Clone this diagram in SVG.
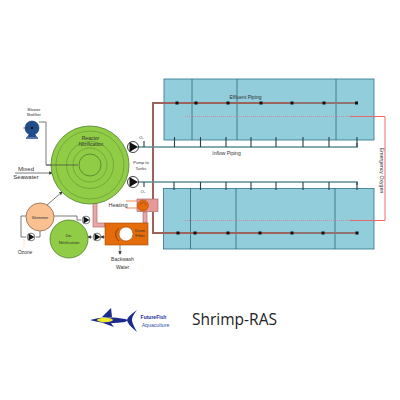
<svg xmlns="http://www.w3.org/2000/svg" width="400" height="400" viewBox="0 0 400 400">
<defs>
<marker id="arr" markerWidth="5" markerHeight="5" refX="4" refY="2.500" orient="auto"><path d="M0 0L5 2.500L0 5Z" fill="#333"/></marker>
<g id="pumpg"><circle r="5.500" fill="#fff" stroke="#111" stroke-width="0.8"/><path d="M-3.500 -5L5 0L-3.500 5Z" fill="#111"/></g>
</defs>
<style>
text{font-family:"Liberation Sans",Arial,sans-serif;fill:#333;text-anchor:middle}
.t{font-size:5px}.m{font-size:6px}.s{font-size:4.200px}
.tank{fill:#92cddc;stroke:#31708a;stroke-width:0.8}
.div{stroke:#2f6778;stroke-width:0.8;fill:none}
.eff{stroke:#9c625c;stroke-width:2;fill:none}
.efb{stroke:#8f7472;stroke-width:1.800;fill:none}
.inf{stroke:#5f8d92;stroke-width:1.700;fill:none}
.stub{stroke:#26404a;stroke-width:1.100;fill:none}
.dot{fill:#111}
.o2{stroke:#f05a5a;stroke-width:0.9;fill:none}
.o2d{stroke:#d77a8f;stroke-width:0.8;stroke-dasharray:1 1;fill:none}
.con{stroke:#444;stroke-width:0.7;fill:none}
.ar{stroke:#444;stroke-width:0.7;fill:none;marker-end:url(#arr)}
.pink{stroke:#a85f5f;stroke-width:0.6;fill:#e6a8a8}
.ring{fill:none;stroke:#5f9433;stroke-width:0.6}
</style>
<rect width="400" height="400" fill="#fff"/>
<g id="tank-top">
<rect class="tank" x="164" y="79" width="210" height="61"/>
<path class="div" d="M192 79V140M237 79V140M336 79V140"/>
</g>
<g id="tank-bottom">
<rect class="tank" x="163.500" y="188.500" width="210.500" height="60.500"/>
<path class="div" d="M190.500 188V249M236 188V249M335 188V249"/>
</g>
<g id="connectors">
<path class="o2d" d="M185 116.500H350M185 220.500H350"/>
<path class="o2" d="M350 116.500H385V220.500H350"/>
<path class="eff" d="M358 103H153V199M153 212V233H358"/>
<path class="efb" d="M290 233H358M290 103H358"/>
<path class="inf" d="M138 147H357V143M138 182H357V185"/>
<path class="stub" d="M174.500 137V147M200.500 137V147M226 137V147M251 137V147M276 137V147M303 137V147M329 137V147M357 137V147"/>
<path class="stub" d="M174 182V190M200.500 182V190M226 182V190M251 182V190M276 182V190M303 182V190M329 182V190M357 182V190"/>
<path class="stub" d="M144 147V141M144 182V187"/>
<g class="dot">
<rect x="175.500" y="101.500" width="3" height="3"/><rect x="194.500" y="101.500" width="3" height="3"/><rect x="226.500" y="101.500" width="3" height="3"/><rect x="259.500" y="101.500" width="3" height="3"/><rect x="290.500" y="101.500" width="3" height="3"/><rect x="322.500" y="101.500" width="3" height="3"/><rect x="355" y="101.500" width="3" height="3"/>
<rect x="176.500" y="231.500" width="3" height="3"/><rect x="193.500" y="231.500" width="3" height="3"/><rect x="226.500" y="231.500" width="3" height="3"/><rect x="258.500" y="231.500" width="3" height="3"/><rect x="290.500" y="231.500" width="3" height="3"/><rect x="321.500" y="231.500" width="3" height="3"/><rect x="355.500" y="231.500" width="3" height="3"/>
</g>
<path class="con" d="M39 122H46V165H78"/>
<path class="ar" d="M15 173H52"/>
<path class="ar" d="M47 205L62 192"/>
<path class="pink" d="M93 203V227H105V223H97V203Z"/>
<path class="pink" d="M143 223V212H147V223Z"/>
<path class="con" d="M54 216H77V220H81"/>
<path class="ar" d="M105 237H101"/>
<path class="ar" d="M92 237H88"/>
<path class="con" d="M27 216H21V237H26M36 237H40V230"/>
<path d="M24 239V247" stroke="#f3dfb5" stroke-width="0.8" fill="none"/>
<path class="ar" d="M120 245V254"/>
<path d="M126 201H138M126 208H138" stroke="#ef8a5a" stroke-width="1.200" fill="none"/>
</g>
<g id="blower">
<circle cx="32" cy="128" r="7" fill="#1f4e8c" stroke="#12305c" stroke-width="0.6"/>
<path d="M26 138H38" stroke="#1f4e8c" stroke-width="1.500"/>
<path d="M29 134L27 137H37L35 134Z" fill="#1f4e8c"/>
<circle cx="32" cy="128" r="1.200" fill="#111"/>
<path d="M23 128H30" stroke="#333" stroke-width="0.5"/>
<text class="s" x="34" y="111">Blower</text><text class="s" x="34" y="116">Biofilter</text>
</g>
<g id="reactor">
<circle cx="90" cy="165" r="39" fill="#90cc45" stroke="#4f7f2c" stroke-width="0.8"/>
<circle class="ring" cx="90" cy="165" r="34"/><circle class="ring" cx="90" cy="165" r="23.500"/><circle class="ring" cx="90" cy="165" r="17"/><circle cx="90" cy="165" r="11" fill="none" stroke="#4f7f2c" stroke-width="0.8"/>
<text class="t" x="90.500" y="140">Reactor</text><text class="t" x="91" y="146">Nitrification</text>
<path class="con" d="M46 165H78"/>
</g>
<g id="labels-left">
<text class="m" x="26" y="171">Mixed</text><text class="m" x="26" y="179">Seawater</text>
<text class="t" x="25" y="254">Ozone</text>
<text class="t" x="122.500" y="261">Backwash</text><text class="t" x="122.500" y="269">Water</text>
<text class="t" x="118" y="207" style="font-size:5.500px">Heating</text>
<text class="s" x="141" y="164">Pump to</text><text class="s" x="141" y="169.500">Tanks</text>
<text class="s" x="141.500" y="139">O₂</text><text class="s" x="143" y="193">O₂</text>
<text class="t" x="245.500" y="99">Effluent Piping</text>
<text class="t" x="226.500" y="155">Inflow Piping</text>
<text x="380" y="170.500" style="font-size:5.200px" transform="rotate(90 380 170.500)">Emergency Oxygen</text>
</g>
<g id="pump-1"><use href="#pumpg" x="133" y="147"/></g>
<g id="pump-2"><use href="#pumpg" x="133" y="182"/></g>
<g id="skimmer"><circle cx="40" cy="217" r="14" fill="#fac090" stroke="#8a6a4a" stroke-width="0.8"/><text class="s" x="40" y="218.500">Skimmer</text></g>
<g id="denit"><circle cx="69" cy="239" r="19" fill="#90cc45" stroke="#4f7f2c" stroke-width="0.8"/><text class="s" x="69" y="237">De-</text><text class="s" x="69" y="244">Nitrification</text></g>
<g id="pump-3"><use href="#pumpg" transform="translate(86 220) scale(.7)"/></g>
<g id="pump-4"><use href="#pumpg" transform="translate(97 237) scale(.7)"/></g>
<g id="pump-5"><use href="#pumpg" transform="translate(31 237) scale(.7)"/></g>
<g id="heater"><rect x="137" y="199" width="21" height="12.500" fill="#e59a9a" stroke="#a05a5a" stroke-width="0.6"/><circle cx="143" cy="205.500" r="5.500" fill="#e46c0a" stroke="#a34a05" stroke-width="0.5"/><path d="M140 205.500A3 3 0 0 1 146 205.500" fill="none" stroke="#8a3a00" stroke-width="0.5"/></g>
<g id="drum">
<rect x="105" y="223" width="43" height="22" fill="#e46c0a" stroke="#a34a05" stroke-width="0.6"/>
<path d="M119 228A8 8 0 0 0 119 241" fill="none" stroke="#6b3000" stroke-width="0.7"/>
<circle cx="126" cy="234" r="7" fill="#fff" stroke="#a34a05" stroke-width="0.6"/>
<text class="s" x="140" y="232">Drum</text><text class="s" x="140" y="237">Filter</text>
</g>
<g id="logo">
<path d="M90 320Q105 315 125 319L128 320L125 322Q105 325 90 320Z" fill="#1a2a8c"/>
<ellipse cx="105" cy="320" rx="8" ry="2.200" fill="#f2e82a"/>
<path d="M102 317L111 308L112 317Z" fill="#1a2a8c"/>
<path d="M103 323L114 327L110 322Z" fill="#1a2a8c"/>
<path d="M137 310Q127 317 127 320Q127 324 137 332Q132 323 132 320Q132 316 137 310Z" fill="#1a2a8c"/>
<text x="153.500" y="319" style="font-size:5px;font-weight:bold;fill:#1f2f9c">FutureFish</text>
<text x="155.500" y="327" style="font-size:5.200px;fill:#2f4fa8">Aquaculture</text>
<text x="234.500" y="325" style="font-family:'Open Sans',sans-serif;font-size:15.500px;fill:#222">Shrimp-RAS</text>
</g>
</svg>
